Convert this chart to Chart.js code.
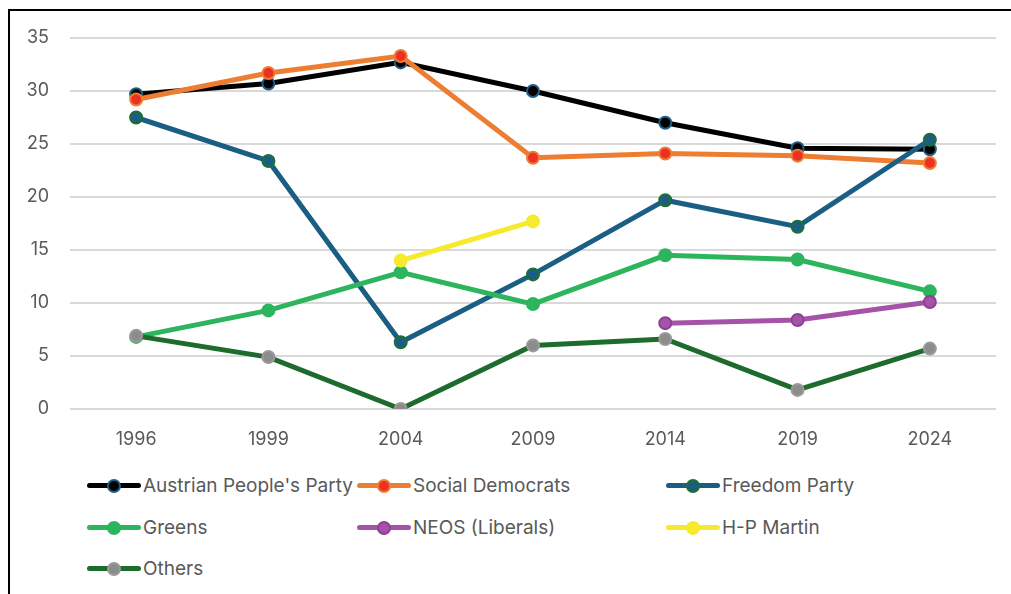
<!DOCTYPE html>
<html>
<head>
<meta charset="utf-8">
<script src="https://cdn.jsdelivr.net/npm/chart.js@4.4.1/dist/chart.umd.min.js"></script>
<style>
  html, body { margin: 0; padding: 0; background: #fff; }
  body { width: 1011px; height: 594px; overflow: hidden; position: relative; font-family: Inter, "Open Sans", sans-serif; }
  .frame { position: absolute; left: 8px; top: 9px; width: 1010px; height: 600px; border-left: 2px solid #000; border-top: 2px solid #000; }
  .chart-box { position: absolute; left: 0; top: 0; width: 1011px; height: 460px; }
  #legend { position: absolute; left: 0; top: 0; width: 1011px; }
  .item { position: absolute; display: flex; align-items: center; color: #595959; font-size: 19px; white-space: nowrap; }
  .swatch { position: relative; width: 54px; height: 14px; margin-right: 2px; }
  .swatch .ln { position: absolute; left: 0; right: 0; top: 4.5px; height: 5px; border-radius: 3px; }
  .swatch .pt { position: absolute; left: 20px; top: 0; width: 10px; height: 10px; border-radius: 50%; border: 2px solid; }
</style>
</head>
<body>
<div class="frame"></div>
<div class="chart-box"><canvas id="chart" width="1011" height="460"></canvas></div>
<div id="legend"></div>
<script>
// Dados (anos das eleições europeias e % de votos)
const years = ['1996', '1999', '2004', '2009', '2014', '2019', '2024'];
const ovp = [29.7, 30.7, 32.7, 30.0, 27.0, 24.6, 24.5];
const spo = [29.2, 31.7, 33.3, 23.7, 24.1, 23.9, 23.2];
const fpo = [27.5, 23.4, 6.3, 12.7, 19.7, 17.2, 25.4];
const greens = [6.8, 9.3, 12.9, 9.9, 14.5, 14.1, 11.1];
const neos = [null, null, null, null, 8.1, 8.4, 10.1];
const hpMartin = [null, null, 14.0, 17.7, null, null, null];
const others = [6.9, 4.9, 0.0, 6.0, 6.6, 1.8, 5.7];
const yTicks = [0, 5, 10, 15, 20, 25, 30, 35];

// Séries: nome, valores, cor da linha, preenchimento e borda do ponto
const series = [
    { label: "Austrian People's Party", data: ovp, line: '#000000', fill: '#000000', border: '#1f5f86' },
    { label: 'Social Democrats', data: spo, line: '#ed7d31', fill: '#ee3024', border: '#ed7d31' },
    { label: 'Freedom Party', data: fpo, line: '#1b5e84', fill: '#1b5e84', border: '#1e6f34' },
    { label: 'Greens', data: greens, line: '#2db55d', fill: '#2db55d', border: '#2db55d' },
    { label: 'NEOS (Liberals)', data: neos, line: '#a553a8', fill: '#a553a8', border: '#8e3f92' },
    { label: 'H-P Martin', data: hpMartin, line: '#f5ea2c', fill: '#f5ea2c', border: '#f5ea2c' },
    { label: 'Others', data: others, line: '#1e6b2e', fill: '#8c8c8c', border: '#9a9a9a' }
];

// Posições da legenda (3 colunas)
const legendPos = [[87, 486], [357, 486], [666, 486], [87, 528], [357, 528], [666, 528], [87, 569]];

const ctx = document.getElementById('chart').getContext('2d');
const chart = new Chart(ctx, {
    type: 'line',
    data: {
        labels: years,
        datasets: series.map((s, i) => ({
            label: s.label,
            data: s.data,
            borderColor: s.line,
            backgroundColor: s.fill,
            pointBackgroundColor: s.fill,
            pointBorderColor: s.border,
            pointBorderWidth: 2,
            pointRadius: 6,
            borderWidth: 5,
            tension: 0,
            spanGaps: false,
            order: series.length - i
        }))
    },
    options: {
        responsive: false,
        animation: false,
        layout: { padding: { left: 0, right: 15, top: 38, bottom: 0 } },
        plugins: {
            legend: { display: false },
            tooltip: { enabled: false }
        },
        scales: {
            x: {
                offset: true,
                grid: { display: false, drawTicks: false },
                border: { display: false },
                ticks: { color: '#595959', font: { family: 'Inter', size: 18 }, padding: 20, maxRotation: 0 },
                afterFit: function(axis) { axis.height = 51; }
            },
            y: {
                min: 0,
                max: 35,
                afterBuildTicks: function(axis) { axis.ticks = yTicks.map(v => ({ value: v })); },
                grid: { color: '#d9d9d9', lineWidth: 2, drawTicks: false },
                border: { display: false },
                ticks: { color: '#595959', font: { family: 'Inter', size: 18 }, padding: 21 },
                afterFit: function(axis) { axis.width = 70; }
            }
        }
    }
});

// Legenda em HTML
const legend = document.getElementById('legend');
series.forEach((s, i) => {
    const item = document.createElement('div');
    item.className = 'item';
    item.style.left = legendPos[i][0] + 'px';
    item.style.top = (legendPos[i][1] - 12) + 'px';
    item.innerHTML = '<span class="swatch"><span class="ln" style="background:' + s.line + '"></span>' +
        '<span class="pt" style="background:' + s.fill + ';border-color:' + s.border + '"></span></span>' +
        '<span>' + s.label + '</span>';
    legend.appendChild(item);
});
</script>
</body>
</html>
